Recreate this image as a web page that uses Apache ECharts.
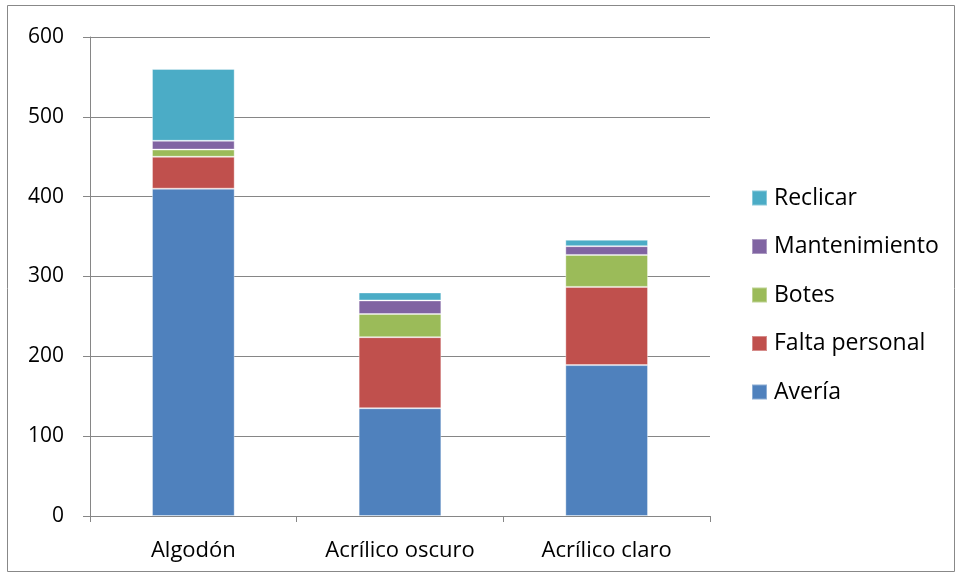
<!DOCTYPE html>
<html>
<head>
<meta charset="utf-8">
<script src="https://cdn.jsdelivr.net/npm/echarts@6/dist/echarts.min.js"></script>
<style>
  html, body { margin: 0; padding: 0; background: #fff; }
  #chart { width: 959px; height: 577px; }
</style>
</head>
<body>
<div id="chart"></div>
<script>
// Categories and stacked values per cause
const categories = ['Algodón', 'Acrílico oscuro', 'Acrílico claro'];
const averia = [410, 135, 189];
const faltaPersonal = [40, 89, 98];
const botes = [9, 29, 40];
const mantenimiento = [11, 17, 11];
const reclicar = [90, 10, 8];
const yTicks = [0, 100, 200, 300, 400, 500, 600];

const seriesDefs = [
  { name: 'Avería', data: averia, color: '#4F81BD' },
  { name: 'Falta personal', data: faltaPersonal, color: '#C0504D' },
  { name: 'Botes', data: botes, color: '#9BBB59' },
  { name: 'Mantenimiento', data: mantenimiento, color: '#8064A2' },
  { name: 'Reclicar', data: reclicar, color: '#4BACC6' }
];

const font = '"Open Sans", sans-serif';
const chart = echarts.init(document.getElementById('chart'));

chart.setOption({
  animation: false,
  backgroundColor: '#fff',
  graphic: [{
    type: 'rect',
    shape: { x: 7.5, y: 5.5, width: 947, height: 566 },
    style: { fill: 'none', stroke: '#888', lineWidth: 1 },
    silent: true
  }],
  grid: { left: 90, right: 249, top: 37, bottom: 61 },
  legend: {
    orient: 'vertical',
    left: 746,
    top: 181.5,
    itemWidth: 15,
    itemHeight: 15,
    itemGap: 25.5,
    icon: 'rect',
    data: seriesDefs.map(s => s.name).reverse(),
    textStyle: { fontFamily: font, fontSize: 23, color: '#000', lineHeight: 23, padding: [0, 0, 0, 2] }
  },
  xAxis: {
    type: 'category',
    data: categories,
    axisLine: { lineStyle: { color: '#868686', width: 1 } },
    axisTick: { show: true, length: 6, lineStyle: { color: '#868686' } },
    axisLabel: { fontFamily: font, fontSize: 22, color: '#000', margin: 24 }
  },
  yAxis: {
    type: 'value',
    min: yTicks[0],
    max: yTicks[yTicks.length - 1],
    interval: 100,
    axisLine: { show: true, lineStyle: { color: '#868686', width: 1 } },
    axisTick: { show: true, length: 7, lineStyle: { color: '#868686' } },
    axisLabel: { fontFamily: font, fontSize: 21, color: '#000', margin: 26 },
    splitLine: { lineStyle: { color: '#868686', width: 1 } }
  },
  series: seriesDefs.map(s => ({
    name: s.name,
    type: 'bar',
    stack: 'total',
    barWidth: '40%',
    data: s.data,
    itemStyle: { color: s.color, borderColor: 'rgba(255,255,255,0.35)', borderWidth: 1 }
  }))
});
</script>
</body>
</html>
